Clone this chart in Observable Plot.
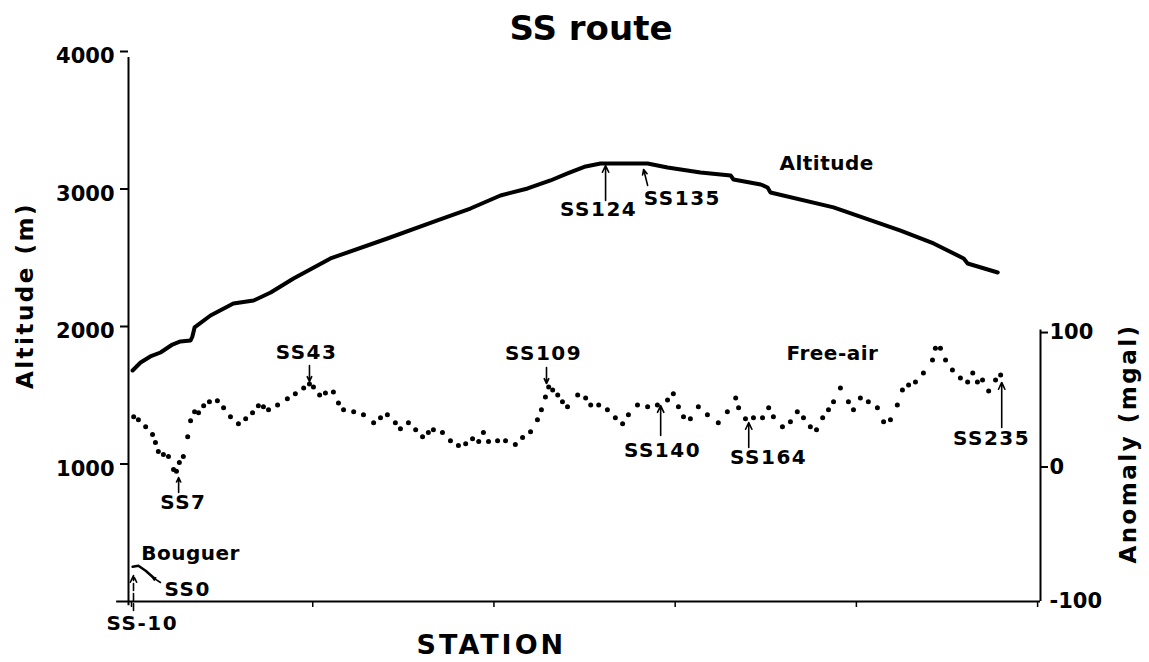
<!DOCTYPE html>
<html>
<head>
<meta charset="utf-8">
<script src="https://cdn.jsdelivr.net/npm/d3@7"></script>
<script src="https://cdn.jsdelivr.net/npm/@observablehq/plot@0.6"></script>
<style>
  html, body { margin: 0; padding: 0; background: #fff; }
  body { width: 1149px; height: 662px; position: relative; overflow: hidden; font-family: "DejaVu Sans", sans-serif; }
  #title { position: absolute; top: 11px; left: 0; width: 1182px; text-align: center; font-size: 34px; line-height: 34px; font-weight: bold; color: #000; }
  #chart { position: absolute; top: 40px; left: 0; }
</style>
</head>
<body>
<div id="title">SS route</div>
<div id="chart"></div>
<script>
// ---- data (x: distance along route in station units, SS-10 = 0) ----
// Altitude profile [station position, altitude m]
const altitude = [
  [0.3,1680],[2.5,1738],[5.2,1782],[8.0,1811],[11.3,1869],[13.5,1891],[16.3,1898],[16.8,1927],
  [17.4,1993],[21.8,2080],[28.1,2167],[33.7,2189],[38.4,2247],[44.7,2349],[54.9,2495],[70.6,2640],
  [84.4,2771],[93.5,2858],[101.8,2953],[109.3,3004],[115.6,3062],[120.3,3113],[125.3,3164],[129.4,3186],
  [142.4,3186],[147.9,3156],[157.0,3120],[165.3,3098],[166.1,3069],[173.6,3033],[175.5,3011],[176.3,2975],
  [193.7,2866],[212.2,2698],[221.3,2604],[229.6,2495],[230.7,2458],[239.0,2393]
];
// Free-air anomaly [station position, mgal]
const freeAir = [
  [0.6,37.4],[1.9,35.2],[3.9,30.0],[5.8,24.1],[6.6,18.2],[7.4,11.5],[8.8,9.3],[10.2,7.8],[11.6,-1.8],[12.4,-3.2],
  [13.2,3.4],[14.3,7.8],[15.5,22.6],[16.3,34.4],[17.4,41.1],[18.5,40.3],[19.9,45.5],[21.5,48.5],[23.7,49.2],[25.4,44.0],
  [27.3,37.4],[29.5,32.2],[31.5,35.9],[33.4,40.3],[35.0,45.5],[36.4,44.8],[37.8,42.5],[40.3,46.2],[43.0,50.7],[45.2,54.4],
  [47.5,58.8],[49.1,61.7],[50.2,59.5],[51.9,53.6],[53.5,55.1],[55.7,55.8],[57.1,47.7],[58.5,42.5],[61.3,41.1],[64.0,38.9],
  [66.8,32.9],[68.7,36.6],[70.6,38.9],[72.8,32.9],[74.2,28.5],[76.4,32.9],[78.4,27.8],[80.3,22.6],[81.9,25.6],[83.3,27.8],
  [85.8,25.6],[88.0,19.6],[90.2,16.0],[92.2,17.4],[94.1,21.1],[95.8,18.9],[97.1,25.6],[98.5,18.9],[101.0,19.6],[103.2,19.6],
  [105.9,16.7],[107.9,21.9],[110.1,26.3],[112.0,35.2],[113.1,42.5],[114.2,52.1],[115.1,59.5],[116.2,57.3],[117.6,53.6],[118.9,48.5],
  [120.3,44.8],[123.1,53.6],[125.3,51.4],[126.7,46.2],[128.9,46.2],[131.3,42.5],[133.5,36.6],[135.5,32.2],[137.1,38.9],[139.6,46.2],
  [142.4,44.8],[145.1,46.2],[147.9,49.9],[149.5,54.4],[150.9,44.8],[152.3,37.4],[154.2,35.9],[156.4,44.8],[158.9,38.9],[161.9,32.9],
  [164.4,41.1],[166.7,51.4],[167.5,44.0],[169.4,35.9],[171.6,36.6],[174.1,36.6],[175.8,44.0],[177.1,37.4],[179.6,30.0],[181.8,33.7],
  [183.7,41.1],[185.4,36.6],[187.3,30.0],[189.0,27.8],[190.7,36.6],[192.3,42.5],[193.7,48.5],[195.6,58.8],[197.8,48.5],[199.2,42.5],
  [201.1,51.4],[203.3,48.5],[205.8,44.0],[207.5,33.7],[209.4,35.2],[211.3,46.2],[212.7,57.3],[214.4,61.0],[216.3,63.2],[218.5,69.9],
  [221.0,79.5],[221.8,88.3],[223.2,88.3],[224.6,79.5],[226.5,72.1],[228.7,66.2],[230.7,63.2],[232.1,69.9],[233.4,63.2],[234.8,64.7],
  [236.5,56.6],[238.4,64.7],[239.8,68.4]
];
// Bouguer anomaly [station position, mgal]
const bouguer = [[0.3,-74.2],[1.9,-73.4],[3.9,-77.1],[6.1,-82.3]];
// Axis ticks
const altTicks = [1000, 2000, 3000, 4000];
const stationTicks = [0, 50, 100, 150, 200, 250];
const anomalyTicks = [100, 0, -100];
const anomalyTickLabels = ["100", "0", "-100"];
// Annotation labels [text, station position, altitude-axis value]
const labelText = ["SS124","SS135","Altitude","Free-air","SS43","SS109","SS140","SS164","SS235","SS7","Bouguer","SS0","SS-10"];
const labelX    = [128.9, 152.0, 191.8, 193.4, 48.3, 113.7, 146.5, 175.8, 237.3, 14.3, 16.3, 15.5, 3.0];
const labelY    = [2851, 2931, 3186, 1804, 1811, 1804, 1098, 1047, 1185, 720, 349, 87, -160];
// Annotation arrows [x1, y1, x2, y2] in station / altitude units
const arrowsSolid = [
  [130.8,2916,130.8,3171],[142.4,3026,141.3,3142],[13.0,793,13.0,902],[49.1,1716,49.1,1600],
  [114.5,1702,114.5,1585],[146.0,1207,146.0,1425],[170.3,1120,170.3,1302],[240.1,1266,240.1,1593],
  [8.0,138,5.8,175]
];
const arrowsDashed = [[0.55,-65,0.55,189]];

// right axis (mgal) expressed on the altitude scale
const toAlt = a => 978 + a * 9.78;

const labels = labelText.map((t, i) => ({text: t, x: labelX[i], y: labelY[i]}));
const arrowObjs = arr => arr.map(([x1,y1,x2,y2]) => ({x1,y1,x2,y2}));

const plot = Plot.plot({
  width: 1149,
  height: 622,
  marginLeft: 128,
  marginRight: 109,
  marginTop: 11,
  marginBottom: 61,
  x: {domain: [-0.83, 250.8]},
  y: {domain: [0, 4000]},
  style: {fontFamily: "DejaVu Sans", fontWeight: "bold", fontSize: "21px", color: "#000", background: "#fff", overflow: "visible"},
  marks: [
    // axis lines
    Plot.ruleY([0], {x1: -4.1, x2: 250.8, strokeWidth: 2}),
    Plot.ruleX([-0.83], {y1: -30, y2: 3956, strokeWidth: 2}),
    Plot.ruleX([250.8], {y1: 0, y2: 1975, strokeWidth: 2}),
    // left axis: tick marks, then labels set slightly below their ticks
    Plot.axisY({ticks: altTicks, tickSize: 8, tickFormat: () => "", label: null, strokeWidth: 2}),
    Plot.axisY({ticks: altTicks, tickSize: 0, tickPadding: 14, tickFormat: d => String(d), label: null, fontSize: 21, dy: 5}),
    // bottom ticks (no labels)
    Plot.axisX({ticks: stationTicks, tickSize: 6, tickFormat: () => "", label: null, strokeWidth: 1.5}),
    // right axis
    Plot.axisY({anchor: "right", ticks: anomalyTicks.slice(0, 2).map(toAlt), tickSize: 7, tickFormat: () => "", label: null, strokeWidth: 2}),
    Plot.axisY({anchor: "right", ticks: anomalyTicks.map(toAlt), tickSize: 0, tickPadding: 9,
      tickFormat: (d, i) => anomalyTickLabels[i], label: null, fontSize: 21}),
    // data
    Plot.line(altitude, {x: d => d[0], y: d => d[1], strokeWidth: 4, strokeLinejoin: "round", strokeLinecap: "round"}),
    Plot.dot(freeAir, {x: d => d[0], y: d => toAlt(d[1]), r: 2.5, fill: "#000", stroke: null}),
    Plot.line(bouguer, {x: d => d[0], y: d => toAlt(d[1]), strokeWidth: 2.5}),
    // annotations
    Plot.arrow(arrowObjs(arrowsSolid), {x1: "x1", y1: "y1", x2: "x2", y2: "y2", strokeWidth: 1.6, headLength: 7, headAngle: 50}),
    Plot.arrow(arrowObjs(arrowsDashed), {x1: "x1", y1: "y1", x2: "x2", y2: "y2", strokeWidth: 1.6, headLength: 7, headAngle: 50, strokeDasharray: "7,3"}),
    Plot.text(labels, {x: "x", y: "y", text: "text", fontSize: 20, fontWeight: "bold"}),
    // axis titles
    Plot.text(["STATION"], {x: [99.3], y: [-320], text: d => d, fontSize: 27, fontWeight: "bold"}),
    Plot.text(["Altitude (m)"], {x: [-29.2], y: [2225], text: d => d, fontSize: 23, fontWeight: "bold", rotate: -90}),
    Plot.text(["Anomaly (mgal)"], {x: [275.1], y: [1149], text: d => d, fontSize: 23, fontWeight: "bold", rotate: -90})
  ]
});
document.getElementById("chart").appendChild(plot);
d3.select(plot).selectAll('g[aria-label="text"] text').each(function() {
  const t = d3.select(this).text();
  let ls = 1.5;
  if (t === "STATION") ls = 3;
  if (t === "Altitude" || t === "Free-air" || t === "Bouguer") ls = 0.5;
  if (t.includes("(")) ls = 2.5;
  d3.select(this).attr("letter-spacing", ls);
});
</script>
</body>
</html>
